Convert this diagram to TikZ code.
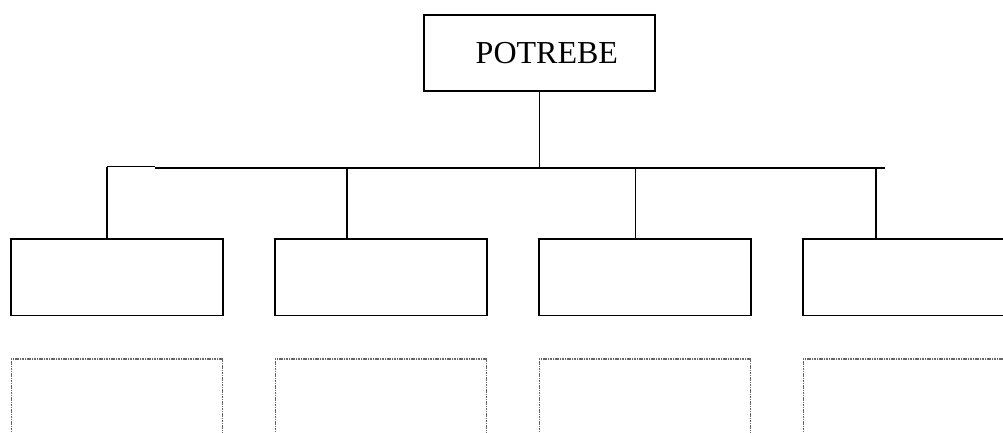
\documentclass[tikz,border=0pt]{standalone}
\usepackage{fontspec}
\setmainfont{Liberation Serif}
\usetikzlibrary{positioning}

\begin{document}
\begin{tikzpicture}[x=0.75pt,y=-0.75pt,line width=1.3pt,
    box/.style={draw,minimum width=158.6pt,minimum height=57.4pt,inner sep=0pt},
    slot/.style={draw=black!60,line width=1pt,dash pattern=on 1.2pt off 0.6pt,minimum width=158.6pt,minimum height=90pt,inner sep=0pt}]
  \clip (0,0) rectangle (1003,432);
  \node[draw,minimum width=173.3pt,minimum height=57pt,inner sep=0pt] (potrebe) at (539.5,53)
      {\fontsize{24}{28}\selectfont\hspace{11pt}POTREBE};
  % first row
  \node[box] (b1) at (116.9,277.3) {};
  \node[box,right=38.1pt of b1] (b2) {};
  \node[box,right=38.1pt of b2] (b3) {};
  \node[box,right=38.1pt of b3] (b4) {};
  % empty second row
  \foreach \i in {1,...,4}
    \node[slot,below=31.5pt of b\i] (s\i) {};
  % bus
  \coordinate (j1) at (107,166.5);
  \coordinate (bl) at (155,168);
  \coordinate (br) at (885,168);
  \draw (j1) -- (j1 -| bl);
  \draw (bl) -- (br);
  \draw (potrebe) -- (potrebe |- bl);
  \draw (j1) -- (j1 |- b1.north);
  \foreach \i/\x in {2/347,3/635.5,4/876}{
    \coordinate (j\i) at (\x,168);
    \draw (j\i) -- (j\i |- b\i.north);
  }
\end{tikzpicture}
\end{document}
